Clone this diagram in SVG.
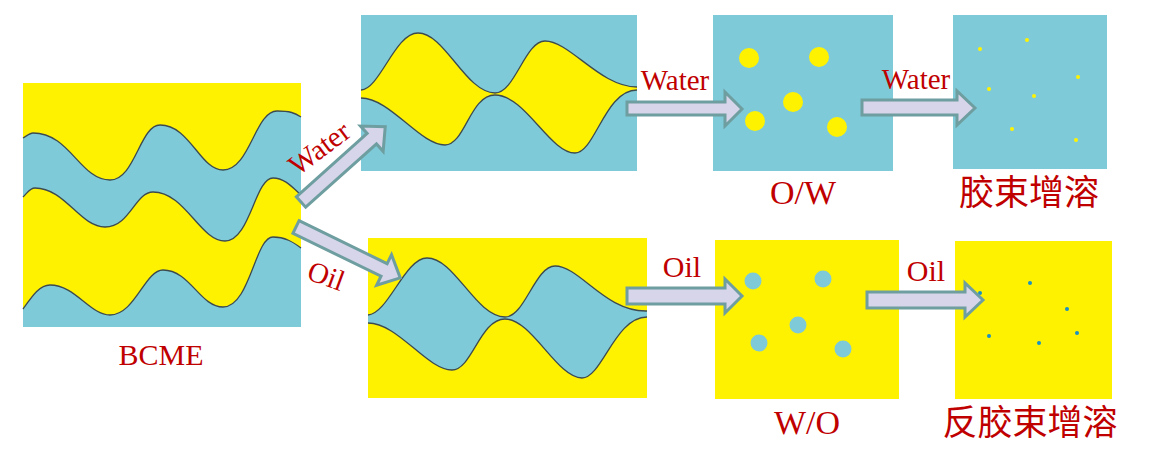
<svg xmlns="http://www.w3.org/2000/svg" width="1168" height="454" viewBox="0 0 1168 454">
<style>
.y{fill:#fff200}
.c{fill:#7fcad8}
.ln{fill:none;stroke:#3c4a50;stroke-width:1.3}
.arr{fill:#d7d5ea;stroke:#6e9ea0;stroke-width:3;stroke-linejoin:miter}
.lbl{font-family:"Liberation Serif","Noto Sans CJK SC",serif;fill:#c00000}
.dy{fill:#fff200}
.dc{fill:#1a90c4}
</style>
<rect width="1168" height="454" fill="#ffffff"/>

<g id="bcme">
<rect class="y" x="23" y="83" width="278" height="244"/>
<path class="c" d="M23,138 C28,135 30,133 33,133 C70,133 80,180 110,180 C135,180 140,125 160,125 C190,125 200,170 223,170 C250,170 255,111 277,111 C290,111 295,113 301,117 L301,195 C293,188 285,178 273,178 C255,178 250,241 225,241 C200,241 185,192 153,192 C135,192 130,227 105,227 C80,227 65,188 35,188 C30,188 28,192 23,197 Z"/>
<path class="c" d="M23,309 C33,295 40,285 50,285 C75,285 90,315 110,315 C135,315 145,270 163,270 C190,270 200,307 223,307 C250,307 255,237 273,237 C285,237 293,242 301,248 L301,327 L23,327 Z"/>
<path class="ln" d="M23,138 C28,135 30,133 33,133 C70,133 80,180 110,180 C135,180 140,125 160,125 C190,125 200,170 223,170 C250,170 255,111 277,111 C290,111 295,113 301,117"/>
<path class="ln" d="M23,197 C28,192 30,188 35,188 C65,188 80,227 105,227 C130,227 135,192 153,192 C185,192 200,241 225,241 C250,241 255,178 273,178 C285,178 293,188 301,195"/>
<path class="ln" d="M23,309 C33,295 40,285 50,285 C75,285 90,315 110,315 C135,315 145,270 163,270 C190,270 200,307 223,307 C250,307 255,237 273,237 C285,237 293,242 301,248"/>
<text class="lbl" x="161" y="365" font-size="30" text-anchor="middle">BCME</text>
</g>

<g id="water-stage">
<rect class="c" x="361" y="15" width="276" height="156"/>
<path class="y" d="M361,90 C380,89 395,33 418,33 C445,33 465,92 495,93 C515,93 525,41 545,41 C570,41 600,87 637,87 L637,90 C605,90 595,153 575,153 C550,153 525,95 495,95 C470,95 465,145 445,145 C420,145 390,98 361,98 Z"/>
<path class="ln" d="M361,90 C380,89 395,33 418,33 C445,33 465,92 495,93 C515,93 525,41 545,41 C570,41 600,87 637,87"/>
<path class="ln" d="M361,98 C390,98 420,145 445,145 C465,145 470,95 495,95 C525,95 550,153 575,153 C595,153 605,90 637,90"/>
</g>

<g id="oil-stage">
<rect class="y" x="368" y="238" width="279" height="160"/>
<path class="c" d="M368,315 C388,314 405,258 427,258 C455,258 475,316 505,317 C525,317 535,266 555,266 C580,266 605,312 647,311 L647,317 C615,317 602,378 582,378 C557,378 532,319 505,319 C480,319 472,370 452,370 C427,370 398,323 368,323 Z"/>
<path class="ln" d="M368,315 C388,314 405,258 427,258 C455,258 475,316 505,317 C525,317 535,266 555,266 C580,266 605,312 647,311"/>
<path class="ln" d="M368,323 C398,323 427,370 452,370 C472,370 480,319 505,319 C532,319 557,378 582,378 C602,378 615,317 647,317"/>
</g>

<g id="ow">
<rect class="c" x="713" y="15" width="180" height="156"/>
<g class="y">
<circle cx="749" cy="58" r="10"/>
<circle cx="819" cy="57" r="10"/>
<circle cx="793" cy="102" r="10"/>
<circle cx="755" cy="121" r="10"/>
<circle cx="837" cy="127" r="10"/>
</g>
<text class="lbl" x="803" y="204" font-size="34" text-anchor="middle">O/W</text>
</g>

<g id="micelle">
<rect class="c" x="953" y="15" width="154" height="154"/>
<g class="dy">
<circle cx="980" cy="49" r="2"/>
<circle cx="1027" cy="40" r="2"/>
<circle cx="1078" cy="77" r="2"/>
<circle cx="989" cy="89" r="2"/>
<circle cx="1034" cy="96" r="2"/>
<circle cx="1012" cy="129" r="2"/>
<circle cx="1076" cy="140" r="2"/>
</g>
<text class="lbl" x="1029" y="205" font-size="35" text-anchor="middle">胶束增溶</text>
</g>

<g id="wo">
<rect class="y" x="715" y="240" width="184" height="159"/>
<g class="c">
<circle cx="753" cy="281" r="8.5"/>
<circle cx="823" cy="279" r="8.5"/>
<circle cx="798" cy="325" r="8.5"/>
<circle cx="759" cy="343" r="8.5"/>
<circle cx="843" cy="349" r="8.5"/>
</g>
<text class="lbl" x="807" y="434" font-size="34" text-anchor="middle">W/O</text>
</g>

<g id="reverse-micelle">
<rect class="y" x="955" y="241" width="157" height="158"/>
<g class="dc">
<circle cx="980" cy="293" r="2"/>
<circle cx="1030" cy="283" r="2"/>
<circle cx="1067" cy="309" r="2"/>
<circle cx="989" cy="336" r="2"/>
<circle cx="1077" cy="333" r="2"/>
<circle cx="1039" cy="343" r="2"/>
</g>
<text class="lbl" x="1030" y="435" font-size="35" text-anchor="middle">反胶束增溶</text>
</g>

<g id="connectors">
<path class="arr" transform="translate(301,202) rotate(-41.8)" d="M0,-7 H95 V-17 L113,0 L95,17 V7 H0 Z"/>
<path class="arr" transform="translate(296,227) rotate(26)" d="M0,-7 H98 V-17 L116,0 L98,17 V7 H0 Z"/>
<path class="arr" d="M627,102 H725 V92 L742,109 L725,126 V115 H627 Z"/>
<path class="arr" d="M862,100 H957 V91 L975,108 L957,125 V115 H862 Z"/>
<path class="arr" d="M627,288 H725 V279 L742,296 L725,313 V304 H627 Z"/>
<path class="arr" d="M867,292 H965 V283 L983,300 L965,317 V308 H867 Z"/>
<text class="lbl" font-size="29" text-anchor="middle" transform="translate(325,156) rotate(-37)">Water</text>
<text class="lbl" font-size="29" text-anchor="middle" transform="translate(323,285) rotate(20)">Oil</text>
<text class="lbl" x="675" y="90" font-size="29" text-anchor="middle">Water</text>
<text class="lbl" x="916" y="89" font-size="29" text-anchor="middle">Water</text>
<text class="lbl" x="682" y="277" font-size="30" text-anchor="middle">Oil</text>
<text class="lbl" x="926" y="281" font-size="30" text-anchor="middle">Oil</text>
</g>
</svg>
